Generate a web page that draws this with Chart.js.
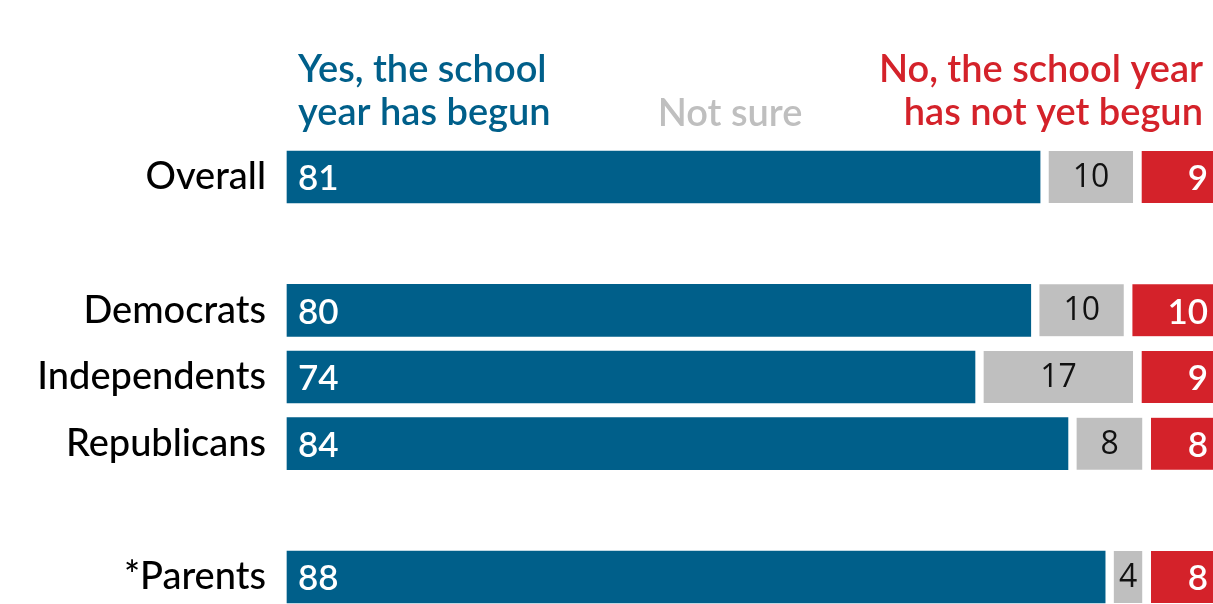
<!DOCTYPE html>
<html>
<head>
<meta charset="utf-8">
<script src="https://cdn.jsdelivr.net/npm/chart.js@4.4.0/dist/chart.umd.min.js"></script>
<style>
  html, body { margin: 0; padding: 0; background: #fff; overflow: hidden; }
  canvas { display: block; }
</style>
</head>
<body>
<canvas id="chart" width="1213" height="604"></canvas>
<script>
// groups, with blank rows as spacers between the blocks
const groups = ['Overall', '', 'Democrats', 'Independents', 'Republicans', '', '*Parents'];
const yesBegun = [81, null, 80, 74, 84, null, 88];
const notSure = [10, null, 10, 17, 8, null, 4];
const notBegun = [9, null, 10, 9, 8, null, 8];

const BLUE = '#005f8a';
const GRAY = '#bfbfbf';
const RED = '#d4222a';
const GAP = 9;

// white gap on the left of each segment after the first
function segment(label, data, color, gap) {
  return {
    label: label,
    data: data,
    backgroundColor: color,
    borderColor: '#ffffff',
    borderWidth: {left: gap, right: 0, top: 0, bottom: 0},
    borderSkipped: false,
    barThickness: 52,
    clip: false
  };
}

// numbers inside the bars plus the column headers
const barLabels = {
  id: 'barLabels',
  afterDatasetsDraw(chart) {
    const ctx = chart.ctx;
    const area = chart.chartArea;
    ctx.save();
    ctx.textBaseline = 'middle';

    chart.data.datasets.forEach(function(ds, i) {
      const meta = chart.getDatasetMeta(i);
      meta.data.forEach(function(bar, j) {
        const v = ds.data[j];
        if (v == null) return;
        if (i == 0) {
          ctx.font = '600 35px Lato';
          ctx.fillStyle = '#ffffff';
          ctx.textAlign = 'left';
          ctx.fillText(v, bar.base + 11, bar.y + 2);
        } else if (i == 1) {
          ctx.font = '400 32px "Open Sans"';
          ctx.fillStyle = '#111111';
          ctx.textAlign = 'center';
          ctx.fillText(v, (bar.base + GAP + bar.x) / 2, bar.y + 1);
        } else {
          ctx.font = '600 35px Lato';
          ctx.fillStyle = '#ffffff';
          ctx.textAlign = 'right';
          ctx.fillText(v, chart.width - 5, bar.y + 2);
        }
      });
    });

    // headers
    ctx.textBaseline = 'alphabetic';
    ctx.font = '600 38px Lato';
    ctx.fillStyle = BLUE;
    ctx.textAlign = 'left';
    ctx.fillText('Yes, the school', area.left + 11, 82);
    ctx.fillText('year has begun', area.left + 11, 125);

    ctx.fillStyle = GRAY;
    ctx.textAlign = 'center';
    ctx.fillText('Not sure', 730, 126);

    ctx.fillStyle = RED;
    ctx.textAlign = 'right';
    ctx.fillText('No, the school year', chart.width - 10, 82);
    ctx.fillText('has not yet begun', chart.width - 10, 125);
    ctx.restore();
  }
};

new Chart('chart', {
  type: 'bar',
  data: {
    labels: groups,
    datasets: [
      segment('Yes, the school year has begun', yesBegun, BLUE, 0),
      segment('Not sure', notSure, GRAY, GAP),
      segment('No, the school year has not yet begun', notBegun, RED, GAP)
    ]
  },
  options: {
    indexAxis: 'y',
    responsive: false,
    animation: false,
    layout: {padding: {top: 177, bottom: 27, left: 0, right: 0}},
    plugins: {
      legend: {display: false},
      tooltip: {enabled: false}
    },
    scales: {
      x: {
        stacked: true,
        min: 0,
        max: 99.6,
        display: false
      },
      y: {
        stacked: true,
        offset: false,
        grid: {display: false, drawTicks: false},
        border: {display: false},
        ticks: {
          color: '#000000',
          padding: 21,
          // small line height keeps the last label from eating bottom space
          font: {family: 'Lato', size: 38, weight: '500', lineHeight: 0.3}
        },
        afterFit(scale) {
          scale.width = 287;
        }
      }
    }
  },
  plugins: [barLabels]
});
</script>
</body>
</html>
